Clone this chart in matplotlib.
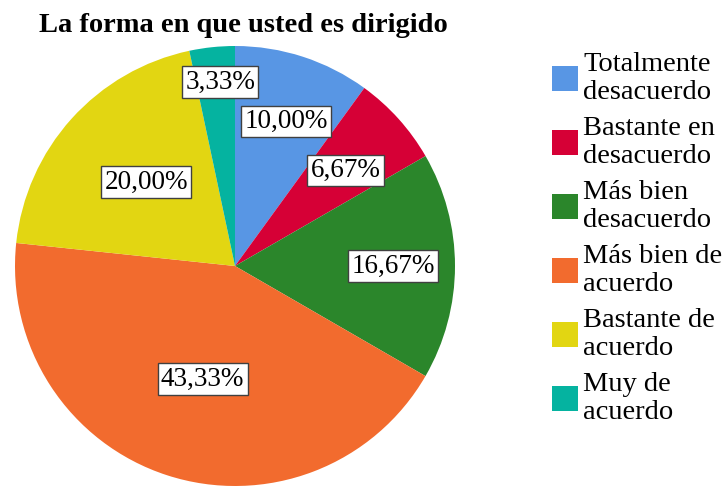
import matplotlib
matplotlib.use("Agg")
import matplotlib.pyplot as plt
from matplotlib.patches import Patch
import numpy as np

categories = ["Totalmente\ndesacuerdo", "Bastante en\ndesacuerdo", "Más bien\ndesacuerdo",
              "Más bien de\nacuerdo", "Bastante de\nacuerdo", "Muy de\nacuerdo"]
values = [10.00, 6.67, 16.67, 43.33, 20.00, 3.33]
labels = ["10,00%", "6,67%", "16,67%", "43,33%", "20,00%", "3,33%"]
colors = ["#5896E4", "#D60036", "#2B862B", "#F26B2E", "#E2D612", "#05B3A0"]
label_radius = [0.69, 0.65, 0.70, 0.54, 0.57, 0.84]

SERIF = "Liberation Serif"

fig = plt.figure(figsize=(7.28, 4.86), dpi=100)
ax = fig.add_axes([15 / 728, 0 / 486, 440 / 728, 440 / 486])
wedges, _ = ax.pie(values, colors=colors, startangle=90, counterclock=False,
                   radius=1, wedgeprops=dict(linewidth=0))
ax.set_xlim(-1, 1)
ax.set_ylim(-1, 1)
ax.set_aspect("equal")
ax.axis("off")

for w, lab, r in zip(wedges, labels, label_radius):
    ang = np.deg2rad((w.theta1 + w.theta2) / 2)
    ax.text(r * np.cos(ang) + 0.02, r * np.sin(ang), lab, ha="center", va="center",
            fontsize=19.5, family=SERIF,
            bbox=dict(boxstyle="square,pad=0.12", fc="white", ec="#404040", lw=1))

fig.text(243 / 728, 1 - 25 / 486, "La forma en que usted es dirigido",
         ha="center", va="center", fontsize=20.5, fontweight="bold", family=SERIF)

handles = [Patch(facecolor=c, edgecolor="none") for c in colors]
leg = fig.legend(handles, categories, loc="upper left", bbox_to_anchor=(552 / 728, 1 - 52 / 486),
                 frameon=False, prop=dict(family=SERIF, size=20.5), handlelength=0.92,
                 handleheight=0.95, handletextpad=0.18, labelspacing=0.38,
                 borderaxespad=0, borderpad=0)
for t in leg.get_texts():
    t.set_linespacing(1.17)

fig.savefig("out.png", dpi=100)
